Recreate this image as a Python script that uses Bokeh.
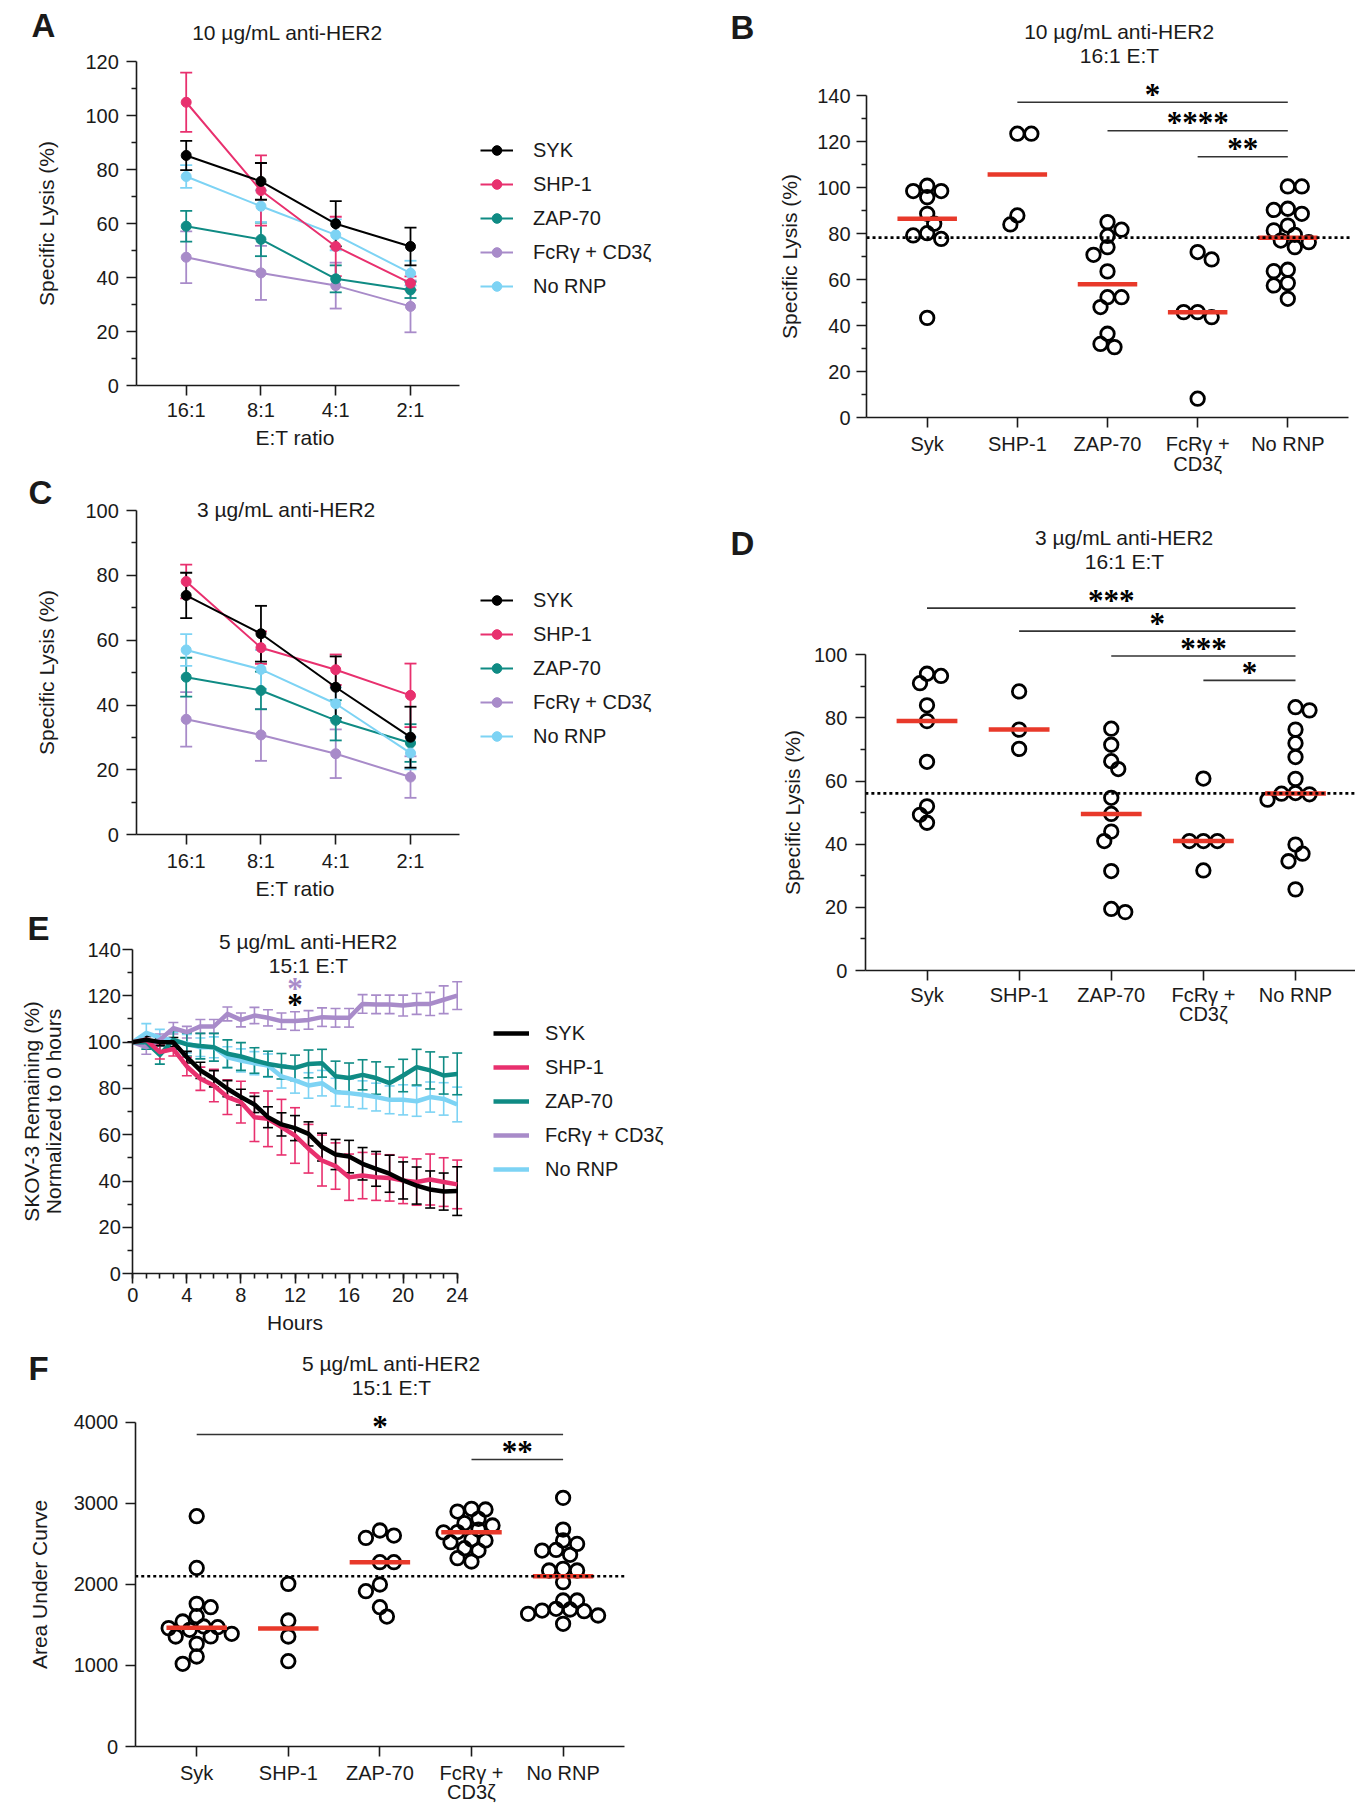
import numpy as np
from bokeh.plotting import figure
from bokeh.models import (ColumnDataSource, Whisker, TeeHead, Label, Legend, LegendItem,
                          FixedTicker, Range1d)
from bokeh.layouts import column, row
from bokeh.embed import file_html
from bokeh.resources import INLINE

# ------------------------------------------------------------------ data
series_names = ["SYK", "SHP-1", "ZAP-70", "FcRγ + CD3ζ", "No RNP"]
group_labels = ["Syk", "SHP-1", "ZAP-70", "FcRγ +\nCD3ζ", "No RNP"]
et_ratios = ["16:1", "8:1", "4:1", "2:1"]

# Panel A : 10 ug/mL, specific lysis vs E:T ratio (mean, error)
a_syk = [85.2, 75.6, 59.9, 51.5]
a_syk_err = [5.4, 6.8, 8.4, 7.0]
a_shp1 = [104.9, 72.2, 51.5, 37.9]
a_shp1_err = [11.0, 13.0, 11.0, 2.5]
a_zap70 = [59.0, 54.1, 39.5, 35.4]
a_zap70_err = [5.7, 6.2, 5.0, 3.0]
a_fcr = [47.5, 41.7, 37.0, 29.3]
a_fcr_err = [9.6, 10.0, 8.5, 9.6]
a_nornp = [77.4, 66.4, 55.8, 41.6]
a_nornp_err = [4.2, 5.9, 5.7, 4.6]

# Panel C : 3 ug/mL
c_syk = [73.8, 62.0, 45.5, 30.1]
c_syk_err = [7.0, 8.6, 9.5, 9.4]
c_shp1 = [78.1, 57.7, 50.9, 43.0]
c_shp1_err = [5.2, 5.0, 4.7, 9.8]
c_zap70 = [48.6, 44.5, 35.3, 28.3]
c_zap70_err = [6.0, 5.8, 6.2, 5.8]
c_fcr = [35.6, 30.8, 25.0, 17.8]
c_fcr_err = [8.4, 8.0, 7.5, 6.4]
c_nornp = [57.0, 51.0, 40.4, 25.2]
c_nornp_err = [4.9, 6.0, 5.0, 5.0]

# Panel B : 10 ug/mL, 16:1, individual donors
b_syk = [95.8, 98.5, 98.5, 100.8, 88.6, 84.3, 79.2, 80.2, 77.7, 43.4]
b_shp1 = [123.4, 123.4, 84.0, 87.9]
b_zap70 = [85.0, 81.7, 79.0, 74.1, 70.8, 63.6, 52.4, 52.4, 48.1, 36.5, 30.7, 32.1]
b_fcr = [68.8, 72.0, 45.9, 43.7, 45.9, 8.3]
b_nornp = [100.5, 100.5, 90.8, 88.6, 90.3, 83.5, 79.5, 81.4, 76.3, 77.0, 74.1,
           64.3, 63.7, 58.5, 57.5, 51.7]
b_sig_from = [2, 3, 4]
b_sig_to = [5, 5, 5]
b_sig_y = [137.1, 124.7, 113.4]
b_sig_text = ["*", "****", "**"]

# Panel D : 3 ug/mL, 16:1
d_syk = [94.0, 93.3, 91.0, 84.0, 79.0, 66.1, 52.0, 49.3, 46.8]
d_shp1 = [88.4, 76.3, 70.2]
d_zap70 = [76.6, 71.5, 66.3, 63.8, 54.7, 49.6, 44.0, 41.0, 31.5, 18.5, 19.5]
d_fcr = [60.8, 41.0, 41.0, 41.0, 31.7]
d_nornp = [82.4, 83.4, 76.3, 72.0, 67.6, 60.7, 56.2, 55.8, 56.0, 54.1, 39.9, 37.0, 34.6, 25.7]
d_sig_from = [1, 2, 3, 4]
d_sig_to = [5, 5, 5, 5]
d_sig_y = [114.8, 107.5, 99.6, 91.9]
d_sig_text = ["***", "*", "***", "*"]

# Panel E : time course, SKOV-3 remaining
hours = list(range(25))
e_syk = [100, 101, 100, 100, 93.5, 87.8, 84.2, 79.9, 76.3, 73.1, 67.6, 64.5, 62.9, 60.4,
         54.7, 51.5, 50.6, 47.5, 45.3, 43.2, 40.3, 38.1, 36.4, 35.5, 35.7]
e_syk_err = [0, 1.5, 1.5, 2, 2.5, 3.5, 3.5, 3.5, 3.4, 3.5, 4.5, 5, 5.4, 5.2, 6, 6.5, 7,
             7, 7.5, 8, 8, 8, 8, 8, 10.5]
e_shp1 = [100, 101, 95.7, 97, 89.5, 84.2, 81.3, 76.3, 74.1, 67.6, 66.9, 63.3, 59.7, 54,
          48.9, 46.5, 41.7, 42.4, 41.7, 41.4, 40.3, 39.6, 40.7, 39.6, 38.6]
e_shp1_err = [0, 1.5, 3, 3, 4, 5, 7, 7.5, 9, 10.5, 12, 12, 12, 10.5, 11, 10, 10, 10, 10,
              10, 10, 10, 11, 10.5, 10.5]
e_zap70 = [100, 100, 94.5, 101, 99, 98.3, 97.8, 95, 93.8, 92.1, 90.6, 89.6, 88.9, 90.6,
           90.9, 85.3, 84.5, 85.9, 84.5, 82.3, 85.6, 89.2, 87.8, 85.6, 86.3]
e_zap70_err = [0, 3, 4, 4, 5, 5.5, 6, 6, 6, 5.5, 5.5, 5.5, 5.5, 6, 6, 6.5, 6.5, 6.5, 7,
               7, 7, 7.7, 8, 8, 9]
e_fcr = [100, 97.8, 101, 106, 104.3, 106.8, 106.8, 112.2, 109.6, 111.5, 110.5, 109.1,
         109.1, 109.6, 110.8, 110.5, 110.5, 116.5, 116.3, 116.3, 115.8, 116.5, 116.5,
         118.3, 120.1]
e_fcr_err = [0, 3, 2.5, 2.5, 2.5, 3, 3, 3, 3, 3.5, 3.5, 3.5, 4, 4, 4, 4, 4, 4, 4, 4,
             4.5, 4.5, 5, 6, 6]
e_nornp = [100, 104, 102, 100.7, 99.3, 97.8, 97.8, 93.5, 92.1, 90.9, 89.9, 85.2, 83.5,
           81.3, 82.3, 78.4, 78, 77.3, 76.3, 75.1, 75.1, 74.5, 76.3, 75.5, 73.1]
e_nornp_err = [0, 4, 3.5, 3.5, 4, 4, 4.5, 4.5, 5, 5, 5, 5, 5.5, 5.5, 5.5, 6, 6, 6, 6, 6,
               6.5, 6.5, 6.5, 7, 7.5]
e_star_x = [12, 12]
e_star_y = [124.5, 117.6]

# Panel F : area under curve
f_syk = [2841, 2203, 1760, 1718, 1607, 1542, 1480, 1472, 1460, 1439, 1390, 1357, 1357,
         1266, 1110, 1020]
f_shp1 = [2006, 1554, 1357, 1052]
f_zap70 = [2573, 2602, 2664, 2273, 2273, 1998, 1916, 1718, 1603]
f_fcr = [2898, 2931, 2923, 2808, 2676, 2726, 2754, 2640, 2645, 2553, 2446, 2520, 2417,
         2282, 2323, 2541]
f_nornp = [3067, 2676, 2499, 2541, 2425, 2417, 2364, 2171, 2171, 2191, 2027, 1801, 1801,
           1636, 1677, 1669, 1698, 1616, 1513, 1690]
f_sig_from = [1, 4]
f_sig_to = [5, 5]
f_sig_y = [3848, 3540]
f_sig_text = ["*", "**"]

# ------------------------------------------------------------------ style
FONT = "Liberation Sans"
FS = "20px"
FS_L = "21px"
INK = "#1a1a1a"
RED = "#E8392A"
colors = ["#000000", "#E8306E", "#0F8B84", "#A88BC9", "#7DD3F4"]
STAR_COLORS = ["#A88BC9", "#000000"]


class Panel:
    """A figure whose frame fills the whole figure; axes sit at fixed data locations."""

    def __init__(self, ox, oy, w, h, xmap, ymap, xbounds, ybounds):
        xa, xva, xb, xvb = xmap
        ya, yva, yb, yvb = ymap
        sx = (xb - xa) / (xvb - xva)
        sy = (ya - yb) / (yvb - yva)
        x0 = xva + (ox - xa) / sx
        x1 = xva + (ox + w - xa) / sx
        y0 = yva - (oy + h - ya) / sy
        y1 = yva + (ya - oy) / sy
        p = figure(width=w, height=h, x_range=Range1d(x0, x1), y_range=Range1d(y0, y1),
                   output_backend="svg", toolbar_location=None, min_border=0)
        p.title.visible = False
        p.outline_line_color = None
        p.xgrid.visible = False
        p.ygrid.visible = False
        p.background_fill_color = "white"
        p.border_fill_color = "white"
        p.xaxis.fixed_location = ybounds[0]
        p.yaxis.fixed_location = xbounds[0]
        p.xaxis.bounds = xbounds
        p.yaxis.bounds = ybounds
        for ax in (p.xaxis[0], p.yaxis[0]):
            ax.axis_line_color = INK
            ax.axis_line_width = 1.6
            ax.major_tick_line_color = INK
            ax.major_tick_line_width = 1.6
            ax.minor_tick_line_color = INK
            ax.minor_tick_line_width = 1.6
            ax.major_tick_in = 0
            ax.major_tick_out = 10
            ax.minor_tick_in = 0
            ax.minor_tick_out = 5
            ax.major_label_text_font = FONT
            ax.major_label_text_font_size = FS
            ax.major_label_text_color = INK
            ax.axis_label_text_font = FONT
            ax.axis_label_text_font_size = FS_L
            ax.axis_label_text_font_style = "normal"
            ax.axis_label_text_color = INK
        self.p, self.ox, self.oy, self.w, self.h = p, ox, oy, w, h
        self.xbounds, self.ybounds = xbounds, ybounds
        self.sx = sx
        self.sy = sy

    def text(self, x, y, text, size=FS_L, bold=False):
        self.p.add_layout(Label(x=x - self.ox, y=self.oy + self.h - y, x_units="screen",
                                y_units="screen", text=text, text_font=FONT,
                                text_font_size=size,
                                text_font_style="bold" if bold else "normal",
                                text_align="center", text_baseline="middle",
                                text_color=INK))

    def legend(self, items, left, top, glyph_width, standoff):
        n = len(items)
        bottom = top + n * 24 + (n - 1) * 10
        leg = Legend(items=items, location=(left - self.ox, self.oy + self.h - bottom),
                     padding=0, margin=0, border_line_color=None, background_fill_alpha=0,
                     glyph_width=glyph_width, glyph_height=24, label_height=24, spacing=10,
                     label_standoff=standoff, label_text_font=FONT,
                     label_text_font_size=FS, label_text_color=INK)
        self.p.add_layout(leg, "center")


def swarm(vals, ppu, upx, step_px=7.0, dmin=10.5):
    """Greedy beeswarm: horizontal offsets (in category units), circles may touch."""
    vals = np.asarray(vals, float)
    order = np.argsort(-vals, kind="stable")
    placed = []
    offs = np.zeros(len(vals))
    for i in order:
        y = vals[i] * ppu
        bal = sum(px for px, _ in placed)
        k = 0
        chosen = None
        while chosen is None:
            if k == 0:
                cands = [0.0]
            elif bal > 0:
                cands = [-k * step_px, k * step_px]
            else:
                cands = [k * step_px, -k * step_px]
            for c in cands:
                if all((c - px) ** 2 + (y - py) ** 2 >= dmin ** 2 for px, py in placed):
                    chosen = c
                    break
            k += 1
        placed.append((chosen, y))
        offs[i] = chosen / upx
    return offs


def line_panel(P, ys, errs, leg_left, leg_top):
    p = P.p
    xs = list(range(1, len(et_ratios) + 1))
    rend = {}
    for i in [3, 2, 4, 1, 0]:
        src = ColumnDataSource(dict(x=xs, y=ys[i],
                                    lo=[a - b for a, b in zip(ys[i], errs[i])],
                                    hi=[a + b for a, b in zip(ys[i], errs[i])]))
        p.add_layout(Whisker(source=src, base="x", upper="hi", lower="lo",
                             line_color=colors[i], line_width=1.8,
                             upper_head=TeeHead(size=12, line_color=colors[i], line_width=1.8),
                             lower_head=TeeHead(size=12, line_color=colors[i], line_width=1.8)))
        l = p.line("x", "y", source=src, line_color=colors[i], line_width=2)
        s = p.scatter("x", "y", source=src, marker="circle", size=10, fill_color=colors[i],
                      line_color=colors[i])
        rend[i] = [l, s]
    P.legend([LegendItem(label=series_names[i], renderers=rend[i]) for i in range(5)],
             leg_left, leg_top, 33, 20)
    p.xaxis.ticker = FixedTicker(ticks=xs, minor_ticks=[])
    p.xaxis.major_label_overrides = {x: t for x, t in zip(xs, et_ratios)}
    p.xaxis.axis_label = "E:T  ratio"


def dot_panel(P, groups):
    p = P.p
    cx = np.arange(1, len(groups) + 1)
    for i, vals in enumerate(groups):
        offs = swarm(vals, P.sy, P.sx)
        p.scatter(cx[i] + offs, vals, marker="circle", size=13.5, fill_color=None,
                  line_color="black", line_width=2.8)
    meds = [float(np.median(v)) for v in groups]
    p.segment(cx - 0.33, meds, cx + 0.33, meds, line_color=RED, line_width=4.5)
    # dotted reference line at the control (No RNP) median, across the axis extent
    p.segment([P.xbounds[0]], [meds[-1]], [P.xbounds[1] + 0.03], [meds[-1]],
              line_color="black", line_width=2.6, line_dash="3 3")
    p.xaxis.ticker = FixedTicker(ticks=list(cx), minor_ticks=[])
    p.xaxis.major_label_overrides = {int(x): t for x, t in zip(cx, group_labels)}
    p.xaxis.major_label_text_line_height = 0.9


def sig_bars(P, x0, x1, y, texts):
    x0 = np.asarray(x0, float)
    x1 = np.asarray(x1, float)
    P.p.segment(x0, y, x1, y, line_color="#333333", line_width=1.6)
    P.p.text((x0 + x1) / 2, y, text=texts, text_font=FONT, text_font_size="31px",
             text_font_style="bold", text_align="center", text_baseline="alphabetic",
             y_offset=-8, text_color="black")


# ------------------------------------------------------------------ Panel A
A = Panel(0, 0, 690, 468, (185.7, 1, 410.0, 4), (385, 0, 61, 120), (0.34, 4.66), (0, 120))
line_panel(A, [a_syk, a_shp1, a_zap70, a_fcr, a_nornp],
           [a_syk_err, a_shp1_err, a_zap70_err, a_fcr_err, a_nornp_err], 480, 138)
A.p.yaxis.ticker = FixedTicker(ticks=list(range(0, 121, 20)), minor_ticks=list(range(10, 120, 20)))
A.p.yaxis.axis_label = "Specific Lysis (%)"
A.p.yaxis.major_label_standoff = 8
A.p.yaxis.axis_label_standoff = 24
A.p.xaxis.major_label_standoff = 3
A.p.xaxis.axis_label_standoff = 2
A.text(43, 25, "A", size="33px", bold=True)
A.text(287, 32, "10 µg/mL anti-HER2")

# ------------------------------------------------------------------ Panel C
C = Panel(0, 468, 690, 437, (185.7, 1, 410.0, 4), (834.3, 0, 510, 100), (0.34, 4.66), (0, 100))
line_panel(C, [c_syk, c_shp1, c_zap70, c_fcr, c_nornp],
           [c_syk_err, c_shp1_err, c_zap70_err, c_fcr_err, c_nornp_err], 480, 588)
C.p.yaxis.ticker = FixedTicker(ticks=list(range(0, 101, 20)), minor_ticks=list(range(10, 100, 20)))
C.p.yaxis.axis_label = "Specific Lysis (%)"
C.p.yaxis.major_label_standoff = 8
C.p.yaxis.axis_label_standoff = 24
C.p.xaxis.major_label_standoff = 5
C.p.xaxis.axis_label_standoff = 2
C.text(40, 492, "C", size="33px", bold=True)
C.text(286, 509, "3 µg/mL anti-HER2")

# ------------------------------------------------------------------ Panel E
E = Panel(0, 905, 690, 440, (132.3, 0, 456.7, 24), (1273.3, 0, 949, 140), (0, 24), (0, 140))
pE = E.p
e_ys = [e_syk, e_shp1, e_zap70, e_fcr, e_nornp]
e_errs = [e_syk_err, e_shp1_err, e_zap70_err, e_fcr_err, e_nornp_err]
e_rend = {}
for i in [4, 3, 2, 1, 0]:
    src = ColumnDataSource(dict(x=hours, y=e_ys[i],
                                lo=[a - b for a, b in zip(e_ys[i], e_errs[i])],
                                hi=[a + b for a, b in zip(e_ys[i], e_errs[i])]))
    pE.add_layout(Whisker(source=src, base="x", upper="hi", lower="lo", line_color=colors[i],
                          line_width=1.6,
                          upper_head=TeeHead(size=10, line_color=colors[i], line_width=1.6),
                          lower_head=TeeHead(size=10, line_color=colors[i], line_width=1.6)))
    e_rend[i] = pE.line("x", "y", source=src, line_color=colors[i], line_width=4.5,
                        line_join="round")
E.legend([LegendItem(label=series_names[i], renderers=[e_rend[i]]) for i in range(5)],
         493, 1021, 36, 16)
pE.text(e_star_x, e_star_y, text=["*", "*"], text_color=STAR_COLORS, text_font=FONT,
        text_font_size="31px", text_font_style="bold", text_align="center",
        text_baseline="alphabetic", y_offset=3)
pE.xaxis.ticker = FixedTicker(ticks=list(range(0, 25, 4)), minor_ticks=list(range(25)))
pE.yaxis.ticker = FixedTicker(ticks=list(range(0, 141, 20)), minor_ticks=list(range(10, 140, 20)))
pE.xaxis.axis_label = "Hours"
pE.yaxis.axis_label = "SKOV-3 Remaining (%)\nNormalized to 0 hours"
pE.yaxis.axis_label_text_line_height = 0.95
pE.yaxis.major_label_standoff = 2
pE.yaxis.axis_label_standoff = 19
pE.xaxis.major_label_standoff = 4
pE.xaxis.axis_label_standoff = 6
E.text(38, 928, "E", size="33px", bold=True)
E.text(308, 941, "5 µg/mL anti-HER2")
E.text(308, 965, "15:1 E:T")

# ------------------------------------------------------------------ Panel F
F = Panel(0, 1345, 690, 460, (196.2, 1, 562.6, 5), (1746, 0, 1421.7, 4000), (0.329, 5.67),
          (0, 4000))
dot_panel(F, [f_syk, f_shp1, f_zap70, f_fcr, f_nornp])
sig_bars(F, f_sig_from, f_sig_to, f_sig_y, f_sig_text)
F.p.yaxis.ticker = FixedTicker(ticks=list(range(0, 4001, 1000)), minor_ticks=[])
F.p.yaxis.axis_label = "Area Under Curve"
F.p.yaxis.major_label_standoff = 7
F.p.yaxis.axis_label_standoff = 20
F.p.xaxis.major_label_standoff = 5
F.text(38, 1368, "F", size="33px", bold=True)
F.text(391, 1363, "5 µg/mL anti-HER2")
F.text(391, 1387, "15:1 E:T")

# ------------------------------------------------------------------ Panel B
B = Panel(690, 0, 665, 500, (926.7, 1, 1287.3, 5), (417.3, 0, 95, 140), (0.327, 5.677),
          (0, 140))
dot_panel(B, [b_syk, b_shp1, b_zap70, b_fcr, b_nornp])
sig_bars(B, b_sig_from, b_sig_to, b_sig_y, b_sig_text)
B.p.yaxis.ticker = FixedTicker(ticks=list(range(0, 141, 20)), minor_ticks=list(range(10, 140, 20)))
B.p.yaxis.axis_label = "Specific Lysis (%)"
B.p.yaxis.major_label_standoff = 6
B.p.yaxis.axis_label_standoff = 13
B.p.xaxis.major_label_standoff = 5
B.text(742, 27, "B", size="33px", bold=True)
B.text(1119, 31, "10 µg/mL anti-HER2")
B.text(1119, 55, "16:1 E:T")

# ------------------------------------------------------------------ Panel D
D = Panel(690, 500, 665, 560, (926.5, 1, 1295, 5), (970, 0, 654.3, 100), (0.331, 5.68),
          (0, 100))
dot_panel(D, [d_syk, d_shp1, d_zap70, d_fcr, d_nornp])
sig_bars(D, d_sig_from, d_sig_to, d_sig_y, d_sig_text)
D.p.yaxis.ticker = FixedTicker(ticks=list(range(0, 101, 20)), minor_ticks=list(range(10, 100, 20)))
D.p.yaxis.axis_label = "Specific Lysis (%)"
D.p.yaxis.major_label_standoff = 8
D.p.yaxis.axis_label_standoff = 7
D.p.xaxis.major_label_standoff = 3
D.text(742, 543, "D", size="33px", bold=True)
D.text(1124, 537, "3 µg/mL anti-HER2")
D.text(1124, 561, "16:1 E:T")

layout = row(column(A.p, C.p, E.p, F.p), column(B.p, D.p))
open("out.html", "w").write(file_html(layout, INLINE))
